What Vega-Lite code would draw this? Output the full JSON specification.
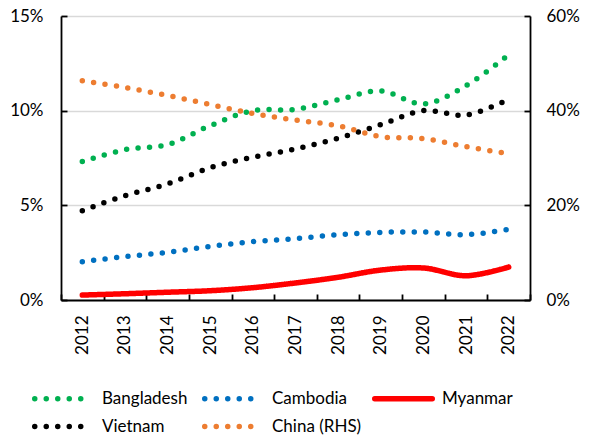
{
  "$schema": "https://vega.github.io/schema/vega-lite/v6.json",
  "width": 469,
  "height": 284,
  "autosize": {"type": "none"},
  "padding": {"left": 61, "top": 16, "right": 60, "bottom": 135},
  "background": "white",
  "config": {
    "font": "Lato",
    "view": {"stroke": null},
    "axis": {"labelFont": "Lato", "labelFontSize": 17, "labelColor": "black", "domainColor": "black", "domainWidth": 1.8, "tickColor": "black", "tickWidth": 1.8, "titleFont": "Lato"},
    "legend": {"labelFont": "Lato", "labelFontSize": 17, "labelColor": "black"}
  },
  "data": {"values": [
    {"year": "2012", "series": "Bangladesh", "value": 7.31},
    {"year": "2013", "series": "Bangladesh", "value": 7.94},
    {"year": "2014", "series": "Bangladesh", "value": 8.21},
    {"year": "2015", "series": "Bangladesh", "value": 9.21},
    {"year": "2016", "series": "Bangladesh", "value": 10.0},
    {"year": "2017", "series": "Bangladesh", "value": 10.07},
    {"year": "2018", "series": "Bangladesh", "value": 10.58},
    {"year": "2019", "series": "Bangladesh", "value": 11.04},
    {"year": "2020", "series": "Bangladesh", "value": 10.35},
    {"year": "2021", "series": "Bangladesh", "value": 11.32},
    {"year": "2022", "series": "Bangladesh", "value": 12.96},
    {"year": "2012", "series": "Cambodia", "value": 2.02},
    {"year": "2013", "series": "Cambodia", "value": 2.29},
    {"year": "2014", "series": "Cambodia", "value": 2.52},
    {"year": "2015", "series": "Cambodia", "value": 2.83},
    {"year": "2016", "series": "Cambodia", "value": 3.08},
    {"year": "2017", "series": "Cambodia", "value": 3.24},
    {"year": "2018", "series": "Cambodia", "value": 3.45},
    {"year": "2019", "series": "Cambodia", "value": 3.57},
    {"year": "2020", "series": "Cambodia", "value": 3.59},
    {"year": "2021", "series": "Cambodia", "value": 3.45},
    {"year": "2022", "series": "Cambodia", "value": 3.73},
    {"year": "2012", "series": "Myanmar", "value": 0.26},
    {"year": "2013", "series": "Myanmar", "value": 0.33},
    {"year": "2014", "series": "Myanmar", "value": 0.41},
    {"year": "2015", "series": "Myanmar", "value": 0.49},
    {"year": "2016", "series": "Myanmar", "value": 0.65},
    {"year": "2017", "series": "Myanmar", "value": 0.9},
    {"year": "2018", "series": "Myanmar", "value": 1.2},
    {"year": "2019", "series": "Myanmar", "value": 1.58},
    {"year": "2020", "series": "Myanmar", "value": 1.69},
    {"year": "2021", "series": "Myanmar", "value": 1.28},
    {"year": "2022", "series": "Myanmar", "value": 1.74},
    {"year": "2012", "series": "Vietnam", "value": 4.72},
    {"year": "2013", "series": "Vietnam", "value": 5.51},
    {"year": "2014", "series": "Vietnam", "value": 6.13},
    {"year": "2015", "series": "Vietnam", "value": 6.99},
    {"year": "2016", "series": "Vietnam", "value": 7.54},
    {"year": "2017", "series": "Vietnam", "value": 7.98},
    {"year": "2018", "series": "Vietnam", "value": 8.54},
    {"year": "2019", "series": "Vietnam", "value": 9.26},
    {"year": "2020", "series": "Vietnam", "value": 10.0},
    {"year": "2021", "series": "Vietnam", "value": 9.77},
    {"year": "2022", "series": "Vietnam", "value": 10.6},
    {"year": "2012", "series": "China (RHS)", "value": 46.3},
    {"year": "2013", "series": "China (RHS)", "value": 44.9},
    {"year": "2014", "series": "China (RHS)", "value": 43.2},
    {"year": "2015", "series": "China (RHS)", "value": 41.3},
    {"year": "2016", "series": "China (RHS)", "value": 39.4},
    {"year": "2017", "series": "China (RHS)", "value": 38.0},
    {"year": "2018", "series": "China (RHS)", "value": 36.8},
    {"year": "2019", "series": "China (RHS)", "value": 34.5},
    {"year": "2020", "series": "China (RHS)", "value": 34.1},
    {"year": "2021", "series": "China (RHS)", "value": 32.4},
    {"year": "2022", "series": "China (RHS)", "value": 30.9}
  ]},
  "encoding": {
    "x": {
      "field": "year", "type": "ordinal", "bandPosition": 0.5,
      "scale": {"type": "band", "paddingInner": 0, "paddingOuter": 0},
      "axis": {"title": null, "labelAngle": -90, "labelAlign": "right", "labelBaseline": "middle", "tickBand": "extent", "tickSize": -6, "labelPadding": 21, "grid": false}
    },
    "color": {
      "field": "series", "type": "nominal",
      "scale": {"domain": ["Bangladesh", "Cambodia", "Myanmar", "Vietnam", "China (RHS)"], "range": ["#00b050", "#0070c0", "#ff0000", "#000000", "#ed7d31"]},
      "legend": {
        "title": null, "orient": "none", "direction": "horizontal", "columns": 3,
        "legendX": -6, "legendY": 374,
        "symbolType": "M-5,0H5", "symbolSize": 132.25, "symbolStrokeWidth": 5.5,
        "labelOffset": 30, "columnPadding": 1, "rowPadding": 5, "gridAlign": "all",
        "encoding": {"symbols": {"strokeCap": {"value": "round"}}}
      }
    },
    "strokeDash": {
      "field": "series", "type": "nominal",
      "scale": {"domain": ["Bangladesh", "Cambodia", "Myanmar", "Vietnam", "China (RHS)"], "range": [[0, 11.5], [0, 11.5], [1, 0], [0, 11.5], [0, 11.5]]},
      "legend": null
    }
  },
  "layer": [
    {
      "transform": [{"filter": "datum.series !== 'China (RHS)'"}],
      "mark": {"type": "line", "interpolate": "catmull-rom", "strokeWidth": 5.5, "strokeCap": "round"},
      "encoding": {
        "y": {
          "field": "value", "type": "quantitative",
          "scale": {"domain": [0, 15]},
          "axis": {"title": null, "values": [0, 5, 10, 15], "labelExpr": "datum.value + '%'", "tickSize": -6, "labelPadding": 24, "grid": true, "gridColor": "#d9d9d9", "gridWidth": 1.5}
        }
      }
    },
    {
      "transform": [{"filter": "datum.series === 'China (RHS)'"}],
      "mark": {"type": "line", "interpolate": "catmull-rom", "strokeWidth": 5.5, "strokeCap": "round"},
      "encoding": {
        "y": {
          "field": "value", "type": "quantitative",
          "scale": {"domain": [0, 60]},
          "axis": {"title": null, "orient": "right", "values": [0, 20, 40, 60], "labelExpr": "datum.value + '%'", "tickSize": -6, "labelPadding": 22, "grid": false}
        }
      }
    }
  ],
  "resolve": {"scale": {"y": "independent"}}
}
